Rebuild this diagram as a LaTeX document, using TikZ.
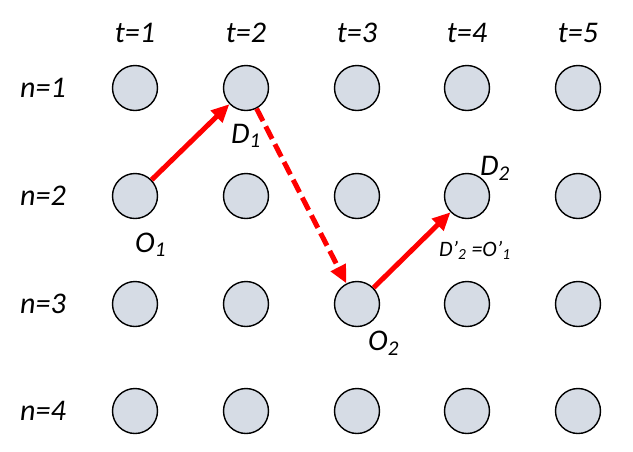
\documentclass[tikz,border=0pt]{standalone}
\usepackage{fontspec}
\setmainfont{Carlito}
\usetikzlibrary{arrows.meta}
\definecolor{nodegray}{RGB}{214,220,229}

\begin{document}
\begin{tikzpicture}[x=1pt,y=-1pt,>={Triangle[length=18pt,width=16pt]},
  grid node/.style={circle,draw,fill=nodegray,minimum size=45pt,inner sep=0pt,line width=1.4pt},
  lbl/.style={font=\fontsize{30}{34}\selectfont\itshape,inner sep=0pt},
  small lbl/.style={font=\fontsize{22}{26}\selectfont\itshape,inner sep=0pt},
  path arrow/.style={->,red,line width=5pt}]
    \useasboundingbox (0,0) rectangle (633,451);

    % grid of states
    \foreach \t/\x in {1/135,2/246,3/357,4/467,5/578} {
        \node[lbl,anchor=base] (t\t) at (\x,42) {t=\t};
        \foreach \n/\y in {1/88,2/196,3/304,4/411}
            \node[grid node] (c\n\t) at (\x,\y) {};
    }
    \foreach \n/\y in {1/88,2/196,3/304,4/411}
        \node[lbl,anchor=base west] (n\n) at (20,\y+9) {n=\n};

    % trip labels
    \node[lbl,anchor=base west] (d1) at (231,143) {D\textsubscript{1}};
    \node[lbl,anchor=base west] (o1) at (135,252) {O\textsubscript{1}};
    \node[lbl,anchor=base west] (d2) at (480,175) {D\textsubscript{2}};
    \node[lbl,anchor=base west] (o2) at (368,350) {O\textsubscript{2}};
    \node[small lbl,anchor=base west] (eq) at (439,256) {D'\textsubscript{2} =O'\textsubscript{1}};

    \draw[path arrow] (c21) -- (c12);
    \draw[path arrow,dash pattern=on 14pt off 6pt] (c12) -- (c33);
    \draw[path arrow] (c33) -- (c24);
\end{tikzpicture}
\end{document}
